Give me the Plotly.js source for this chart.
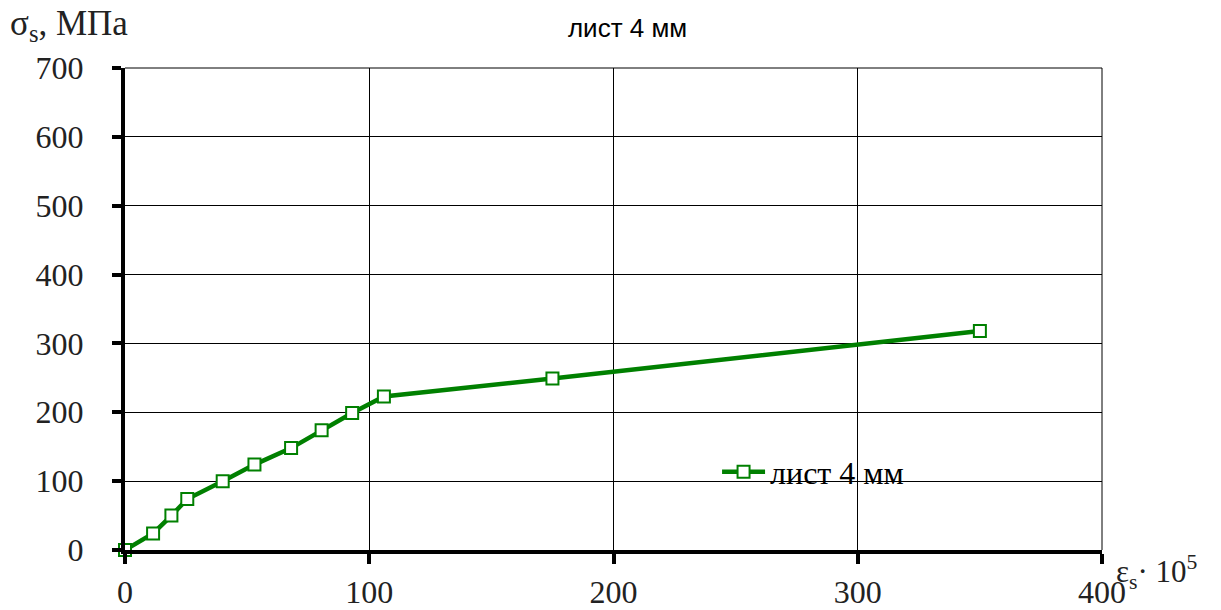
<!DOCTYPE html>
<html>
<head>
<meta charset="utf-8">
<script src="https://cdn.plot.ly/plotly-3.0.1.min.js"></script>
<style>html,body{margin:0;padding:0;background:#fff;}#chart{width:1221px;height:610px;}</style>
</head>
<body>
<div id="chart"></div>
<script>
const seriesName = "лист 4 мм";
const chartTitle = "лист 4 мм";
const strain = [0, 11.5, 19, 25.5, 40, 53, 68, 80.5, 93, 106, 175, 350];
const stress = [0, 24, 50, 74, 100, 124, 148, 174, 199, 223, 249, 318];
const xTicks = [0, 100, 200, 300, 400];
const yTicks = [0, 100, 200, 300, 400, 500, 600, 700];
const yLabel = "σ<sub>s</sub>, МПа";
const xLabel = "ε<sub>s</sub>· 10<sup>5</sup>";

const serif = "Liberation Serif, Times New Roman, serif";

const trace = {
  x: strain, y: stress, name: seriesName,
  mode: "lines+markers", type: "scatter",
  line: {color: "#008000", width: 4.5},
  marker: {symbol: "square", size: 12, color: "#ffffff", line: {color: "#008000", width: 2}},
  cliponaxis: false
};

const layout = {
  width: 1221, height: 610,
  margin: {l: 125, r: 119, t: 68, b: 60},
  paper_bgcolor: "#ffffff", plot_bgcolor: "#ffffff",
  title: {text: chartTitle, x: 0.514, xanchor: "center", y: 0.955, yanchor: "middle",
          font: {family: "Liberation Sans, Arial, sans-serif", size: 26, color: "#000"}},
  showlegend: true,
  legend: {x: 0.606, y: 0.162, xanchor: "left", yanchor: "middle", bgcolor: "rgba(0,0,0,0)",
           font: {family: serif, size: 32, color: "#000"}, itemwidth: 43, tracegroupgap: 0},
  xaxis: {range: [0, 400], tickvals: xTicks, ticktext: xTicks.map(String),
          showgrid: true, gridcolor: "#000", gridwidth: 1,
          showline: true, linecolor: "#000", linewidth: 4,
          ticks: "outside", ticklen: 10, tickwidth: 4, tickcolor: "#000",
          tickfont: {family: serif, size: 32, color: "#222"}, ticklabelstandoff: 1,
          zeroline: false, fixedrange: true},
  yaxis: {range: [0, 700], tickvals: yTicks, ticktext: yTicks.map(String),
          showgrid: true, gridcolor: "#000", gridwidth: 1,
          showline: true, linecolor: "#000", linewidth: 4,
          ticks: "outside", ticklen: 9, tickwidth: 4, tickcolor: "#000",
          tickfont: {family: serif, size: 32, color: "#222"}, ticklabelstandoff: 22,
          zeroline: false, fixedrange: true},
  annotations: [
    {text: yLabel, xref: "paper", yref: "paper", x: -0.12, y: 1.088, xanchor: "left", yanchor: "middle",
     showarrow: false, font: {family: serif, size: 35, color: "#222"}},
    {text: xLabel, xref: "paper", yref: "paper", x: 1.012, y: -0.045, xanchor: "left", yanchor: "middle",
     showarrow: false, font: {family: serif, size: 31, color: "#222"}}
  ],
  shapes: [
    {type: "line", xref: "paper", yref: "paper", x0: 1, x1: 1, y0: 0, y1: 1, line: {color: "#000", width: 1}},
    {type: "line", xref: "paper", yref: "paper", x0: 0, x1: 1, y0: 1, y1: 1, line: {color: "#000", width: 1}}
  ]
};

Plotly.newPlot("chart", [trace], layout, {displayModeBar: false, staticPlot: true});
</script>
</body>
</html>
